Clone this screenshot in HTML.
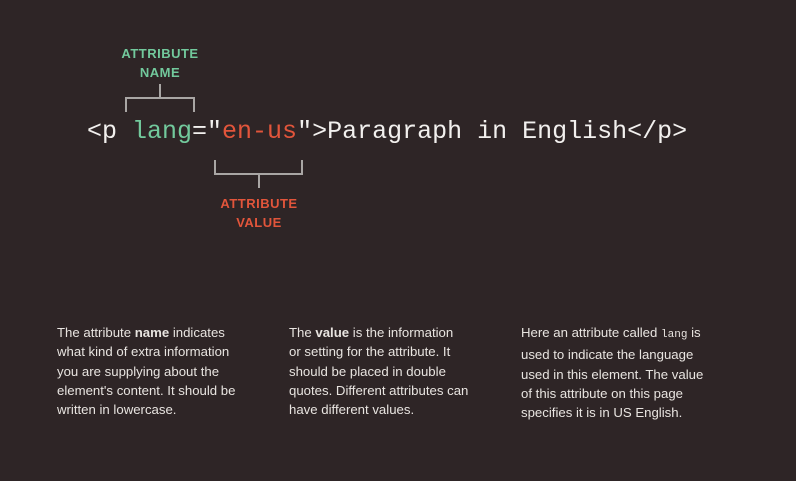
<!DOCTYPE html>
<html><head><style>
body{margin:0;width:796px;height:481px;background:#2e2526;position:relative;overflow:hidden;font-family:"Liberation Sans",sans-serif}
.code{position:absolute;left:87px;top:115px;font-family:"Liberation Mono",monospace;font-size:25px;color:#f2f0ee;white-space:pre;line-height:34px}
.g{color:#72c99c}.r{color:#e2553b}
.lbl{position:absolute;font-size:13px;font-weight:bold;text-align:center;line-height:19px;letter-spacing:0.5px;width:120px}
.p{position:absolute;top:323px;font-size:13.2px;line-height:19.3px;color:#e8e4e0;white-space:nowrap}
.ln{position:absolute;background:#a9a6a4}
</style></head><body>
<div class="lbl g" style="left:100px;top:44px">ATTRIBUTE<br>NAME</div>
<div class="ln" style="left:159px;top:84px;width:2px;height:14px"></div>
<div class="ln" style="left:125px;top:97px;width:70px;height:2px"></div>
<div class="ln" style="left:125px;top:97px;width:2px;height:15px"></div>
<div class="ln" style="left:193px;top:97px;width:2px;height:15px"></div>
<div class="code">&lt;p <span class="g">lang</span>="<span class="r">en-us</span>"&gt;Paragraph in English&lt;/p&gt;</div>
<div class="ln" style="left:214px;top:160px;width:2px;height:15px"></div>
<div class="ln" style="left:301px;top:160px;width:2px;height:15px"></div>
<div class="ln" style="left:214px;top:173px;width:89px;height:2px"></div>
<div class="ln" style="left:258px;top:173px;width:2px;height:15px"></div>
<div class="lbl r" style="left:199px;top:194px">ATTRIBUTE<br>VALUE</div>
<div class="p" style="left:57px">The attribute <b>name</b> indicates<br>what kind of extra information<br>you are supplying about the<br>element's content. It should be<br>written in lowercase.</div>
<div class="p" style="left:289px">The <b>value</b> is the information<br>or setting for the attribute. It<br>should be placed in double<br>quotes. Different attributes can<br>have different values.</div>
<div class="p" style="left:521px">Here an attribute called <span style="font-family:'Liberation Mono',monospace;font-size:11px">lang</span> is<br>used to indicate the language<br>used in this element. The value<br>of this attribute on this page<br>specifies it is in US English.</div>
</body></html>
